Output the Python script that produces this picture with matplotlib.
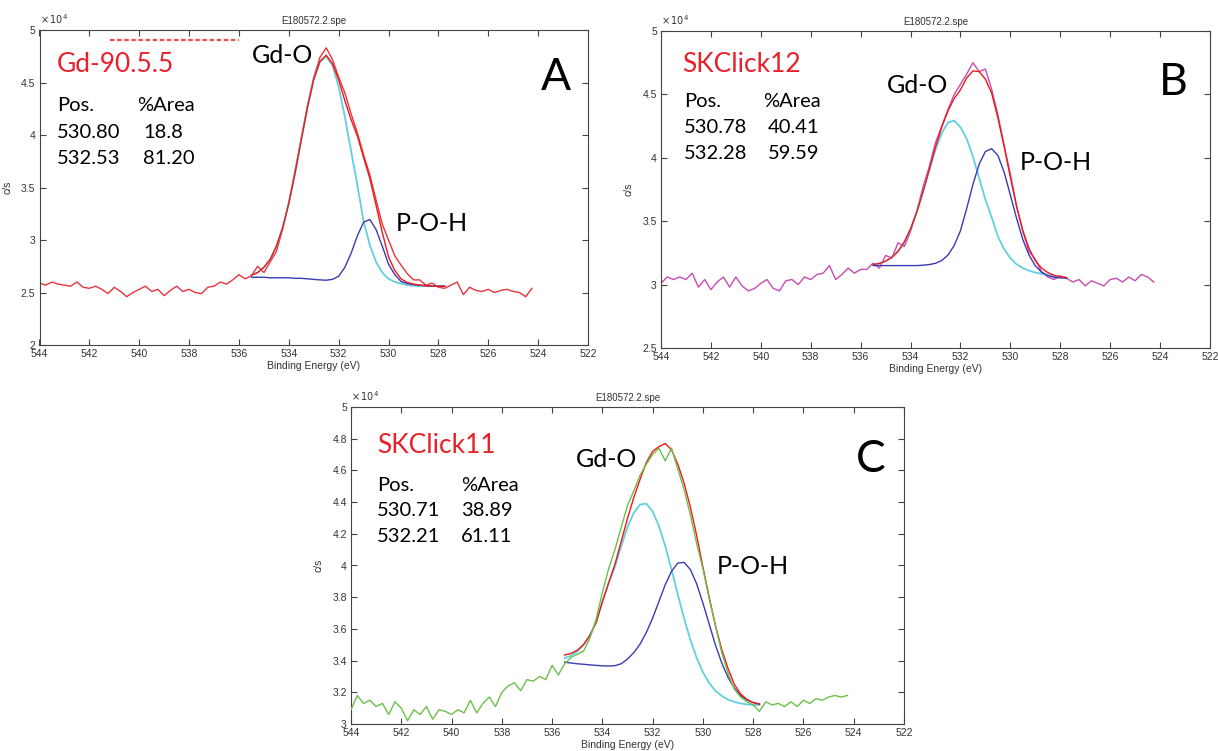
import numpy as np
import matplotlib.pyplot as plt

# binding energy grids (eV)
energy_raw = np.arange(544.0, 524.1, -0.25)   # 544 ... 524.25
energy_fit = np.arange(535.5, 527.6, -0.25)   # 535.5 ... 527.75

# ---- panel A : Gd-90.5.5 (c/s x 1e4) ----
raw_a = [2.59, 2.57, 2.60, 2.58, 2.57, 2.56, 2.60, 2.55, 2.54, 2.56,
         2.53, 2.49, 2.55, 2.51, 2.46, 2.50, 2.53, 2.56, 2.51, 2.53,
         2.47, 2.52, 2.56, 2.51, 2.53, 2.50, 2.49, 2.55, 2.56, 2.60,
         2.58, 2.62, 2.67, 2.63, 2.66, 2.75, 2.69, 2.79, 2.89, 3.10,
         3.36, 3.66, 3.97, 4.28, 4.55, 4.74, 4.83, 4.72, 4.55, 4.40,
         4.20, 4.02, 3.81, 3.62, 3.38, 3.15, 3.00, 2.85, 2.76, 2.68,
         2.62, 2.62, 2.57, 2.59, 2.55, 2.54, 2.57, 2.60, 2.48, 2.55,
         2.52, 2.51, 2.53, 2.50, 2.52, 2.53, 2.51, 2.50, 2.46, 2.54]
gdo_a = [2.665, 2.69, 2.74, 2.815, 2.94, 3.115, 3.35, 3.635, 3.955, 4.265,
         4.53, 4.70, 4.75, 4.66, 4.46, 4.17, 3.845, 3.52, 3.18, 2.95,
         2.79, 2.69, 2.63, 2.60, 2.585, 2.57, 2.565, 2.56, 2.56, 2.56,
         2.56, 2.56]
poh_a = [2.645, 2.645, 2.645, 2.64, 2.64, 2.64, 2.64, 2.635, 2.635, 2.63,
         2.625, 2.62, 2.617, 2.625, 2.655, 2.74, 2.875, 3.04, 3.17, 3.195,
         3.10, 2.94, 2.77, 2.67, 2.605, 2.585, 2.575, 2.57, 2.565, 2.56,
         2.56, 2.56]
env_a = [2.665, 2.69, 2.74, 2.815, 2.94, 3.115, 3.35, 3.635, 3.955, 4.265,
         4.53, 4.70, 4.76, 4.68, 4.525, 4.325, 4.145, 3.99, 3.785, 3.585,
         3.33, 3.07, 2.84, 2.71, 2.63, 2.595, 2.58, 2.57, 2.565, 2.56,
         2.56, 2.56]

# ---- panel B : SKClick12 ----
raw_b = [3.01, 3.06, 3.04, 3.06, 3.04, 3.09, 2.98, 3.04, 2.96, 3.02,
         3.06, 2.98, 3.06, 2.99, 2.95, 2.97, 3.01, 3.04, 2.97, 2.95,
         3.03, 3.04, 3.00, 3.06, 3.04, 3.08, 3.09, 3.15, 3.04, 3.08,
         3.13, 3.09, 3.12, 3.12, 3.17, 3.13, 3.23, 3.21, 3.33, 3.30,
         3.42, 3.58, 3.77, 3.93, 4.12, 4.25, 4.38, 4.50, 4.58, 4.66,
         4.75, 4.68, 4.70, 4.54, 4.34, 4.10, 3.87, 3.62, 3.42, 3.26,
         3.20, 3.10, 3.06, 3.04, 3.07, 3.05, 3.02, 3.04, 2.99, 3.03,
         3.01, 2.99, 3.04, 3.05, 3.02, 3.06, 3.03, 3.08, 3.06, 3.02]
gdo_b = [3.158, 3.167, 3.185, 3.215, 3.262, 3.336, 3.439, 3.572, 3.73, 3.90,
         4.064, 4.196, 4.278, 4.294, 4.241, 4.15, 4.01, 3.84, 3.67, 3.53,
         3.38, 3.28, 3.21, 3.16, 3.13, 3.11, 3.095, 3.085, 3.075, 3.065,
         3.06, 3.055]
poh_b = [3.15, 3.15, 3.15, 3.15, 3.15, 3.15, 3.15, 3.15, 3.153, 3.158,
         3.168, 3.19, 3.233, 3.309, 3.425, 3.60, 3.79, 3.95, 4.05, 4.072,
         4.019, 3.887, 3.706, 3.522, 3.355, 3.232, 3.148, 3.098, 3.072, 3.058,
         3.053, 3.05]
env_b = [3.158, 3.167, 3.185, 3.215, 3.262, 3.336, 3.439, 3.572, 3.733, 3.908,
         4.084, 4.242, 4.371, 4.468, 4.536, 4.63, 4.685, 4.68, 4.62, 4.51,
         4.314, 4.089, 3.846, 3.615, 3.425, 3.284, 3.188, 3.13, 3.095, 3.073,
         3.063, 3.055]

# ---- panel C : SKClick11 ----
raw_c = [3.09, 3.18, 3.13, 3.15, 3.11, 3.13, 3.06, 3.14, 3.10, 3.02,
         3.09, 3.06, 3.11, 3.03, 3.09, 3.08, 3.06, 3.09, 3.07, 3.15,
         3.07, 3.13, 3.17, 3.11, 3.20, 3.24, 3.26, 3.21, 3.28, 3.27,
         3.30, 3.28, 3.37, 3.31, 3.38, 3.42, 3.44, 3.46, 3.54, 3.66,
         3.83, 3.98, 4.10, 4.24, 4.38, 4.47, 4.57, 4.64, 4.70, 4.74,
         4.66, 4.74, 4.61, 4.48, 4.32, 4.14, 3.98, 3.79, 3.62, 3.45,
         3.32, 3.22, 3.17, 3.14, 3.12, 3.08, 3.14, 3.12, 3.13, 3.11,
         3.14, 3.11, 3.15, 3.13, 3.16, 3.15, 3.17, 3.18, 3.17, 3.18]
gdo_c = [3.415, 3.431, 3.458, 3.50, 3.558, 3.64, 3.77, 3.89, 3.992, 4.122,
         4.242, 4.332, 4.385, 4.39, 4.341, 4.249, 4.124, 3.975, 3.818, 3.667,
         3.532, 3.418, 3.327, 3.259, 3.209, 3.177, 3.154, 3.14, 3.13, 3.124,
         3.12, 3.12]
poh_c = [3.39, 3.385, 3.38, 3.377, 3.373, 3.37, 3.367, 3.366, 3.368, 3.38,
         3.41, 3.45, 3.504, 3.578, 3.668, 3.773, 3.878, 3.963, 4.015, 4.02,
         3.975, 3.885, 3.763, 3.63, 3.498, 3.385, 3.294, 3.227, 3.18, 3.152,
         3.135, 3.127]
env_c = [3.435, 3.445, 3.465, 3.50, 3.558, 3.64, 3.77, 3.89, 4.007, 4.152,
         4.297, 4.429, 4.544, 4.65, 4.72, 4.75, 4.77, 4.73, 4.64, 4.52,
         4.37, 4.19, 3.99, 3.80, 3.62, 3.47, 3.35, 3.25, 3.19, 3.155,
         3.135, 3.125]

samples = ['Gd-90.5.5', 'SKClick12', 'SKClick11']
positions = [['530.80', '532.53'], ['530.78', '532.28'], ['530.71', '532.21']]
areas = [['18.8', '81.20'], ['40.41', '59.59'], ['38.89', '61.11']]
letters = ['A', 'B', 'C']

W, H = 1218, 751
fig = plt.figure(figsize=(W / 100, H / 100), dpi=100)

ANNOT = ['Lato', 'DejaVu Sans']
TICKF = ['Liberation Sans', 'DejaVu Sans']
RED = '#e8202a'


def ftext(x, y, s, **kw):
    # place text at pixel coords of the output picture
    fig.text(x / W, 1 - y / H, s, **kw)


def panel(box, raw, raw_col, gdo, poh, env, ylim, yticks, raw_on_top=False):
    x0, y0, x1, y1 = box
    ax = fig.add_axes([x0 / W, 1 - y1 / H, (x1 - x0) / W, (y1 - y0) / H])
    z = 5 if raw_on_top else 1
    ax.plot(energy_raw, raw, color=raw_col, lw=1.0, zorder=z)
    ax.plot(energy_fit, gdo, color='#62cfe2', lw=1.3, zorder=2)
    ax.plot(energy_fit, poh, color='#3a3ab4', lw=1.0, zorder=3)
    ax.plot(energy_fit, env, color='#f01818', lw=1.0, zorder=4)
    ax.set_xlim(544, 522)
    ax.set_ylim(*ylim)
    ax.set_xticks(np.arange(544, 521, -2))
    ax.set_yticks(yticks)
    ax.set_yticklabels(['%g' % t for t in yticks])
    ax.tick_params(direction='in', top=True, right=True, length=4, width=0.8,
                   color='#444444', labelsize=7.5, labelcolor='#333333', pad=3)
    for lab in ax.get_xticklabels() + ax.get_yticklabels():
        lab.set_family(TICKF)
    for sp in ax.spines.values():
        sp.set_color('#444444')
        sp.set_linewidth(0.8)
    ax.set_xlabel('Binding Energy (eV)', fontsize=7.5, family=TICKF, color='#333333')
    ax.set_ylabel('c/s', fontsize=7.5, family=TICKF, color='#333333')
    ax.xaxis.set_label_coords(0.5, -0.05)
    ax.yaxis.set_label_coords(-0.05, 0.5)
    ax.set_title('E180572.2.spe', fontsize=7, family=TICKF, color='#333333', pad=4)
    ax.text(0.0, 1.012, r'$\times\,10^{4}$', transform=ax.transAxes, fontsize=7,
            color='#333333', ha='left', va='bottom')
    return ax


ax_a = panel((39.5, 30, 588, 345), raw_a, '#e8343c', gdo_a, poh_a, env_a,
             (2, 5), [2, 2.5, 3, 3.5, 4, 4.5, 5])
ax_b = panel((661, 31, 1210, 348), raw_b, '#c84bb4', gdo_b, poh_b, env_b,
             (2.5, 5), [2.5, 3, 3.5, 4, 4.5, 5])
ax_c = panel((351, 407, 904, 724), raw_c, '#6cc04a', gdo_c, poh_c, env_c,
             (3, 5), [3, 3.2, 3.4, 3.6, 3.8, 4, 4.2, 4.4, 4.6, 4.8, 5],
             raw_on_top=True)

# remnant of a cut-off red label in panel A
ax_a.plot([0.128, 0.363], [0.968, 0.968], transform=ax_a.transAxes,
          color=RED, lw=1.6, ls=(0, (2, 1.2)), alpha=0.8)

# text blocks: sample name, fit table, peak names, panel letter
layout = [
    # name(x, base), table x cols, table baselines, Gd-O, P-O-H, letter
    dict(name=(57, 72), cols=(57, 137, 143), rows=(111, 138, 164),
         gdo=(252, 63), poh=(396, 231), let=(541, 90)),
    dict(name=(682, 72), cols=(684, 763, 768), rows=(107, 133, 159),
         gdo=(887, 93), poh=(1020, 170), let=(1159, 95)),
    dict(name=(377, 453), cols=(377, 461, 461), rows=(491, 516, 542),
         gdo=(576, 467), poh=(717, 574), let=(856, 472)),
]
for i, lay in enumerate(layout):
    ftext(*lay['name'], samples[i], color=RED, fontsize=19, family=ANNOT)
    cx, ca, cv = lay['cols']
    r0, r1, r2 = lay['rows']
    ftext(cx, r0, 'Pos.', fontsize=14.5, family=ANNOT)
    ftext(ca, r0, '%Area', fontsize=14.5, family=ANNOT)
    ftext(cx, r1, positions[i][0], fontsize=14.5, family=ANNOT)
    ftext(cv, r1, areas[i][0], fontsize=14.5, family=ANNOT)
    ftext(cx, r2, positions[i][1], fontsize=14.5, family=ANNOT)
    ftext(cv, r2, areas[i][1], fontsize=14.5, family=ANNOT)
    ftext(*lay['gdo'], 'Gd-O', fontsize=18, family=ANNOT)
    ftext(*lay['poh'], 'P-O-H', fontsize=18, family=ANNOT)
    ftext(*lay['let'], letters[i], fontsize=32, family=ANNOT)

fig.savefig('out.png', dpi=100)
